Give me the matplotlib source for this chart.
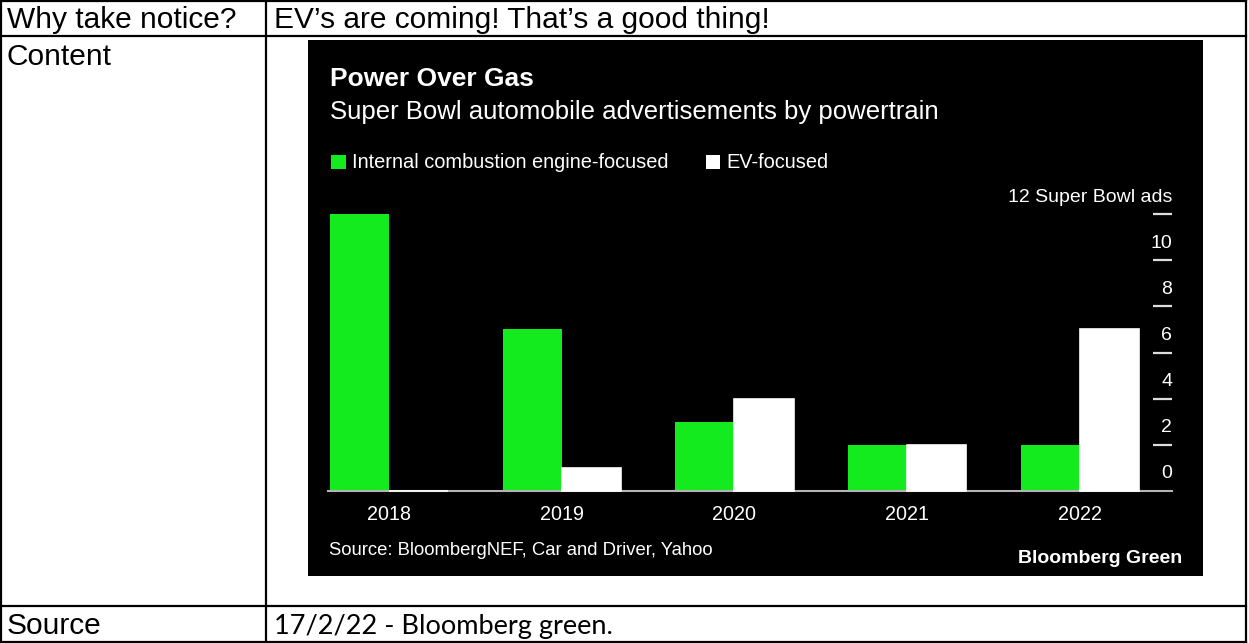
import matplotlib
matplotlib.use("Agg")
import matplotlib.pyplot as plt
from matplotlib.patches import Rectangle
from matplotlib.lines import Line2D
import numpy as np

# ---- data ----
years = ["2018", "2019", "2020", "2021", "2022"]
ice_focused = [12, 7, 3, 2, 2]
ev_focused = [0, 1, 4, 2, 7]
ytick_values = [0, 2, 4, 6, 8, 10, 12]
ytick_labels = ["0", "2", "4", "6", "8", "10", "12 Super Bowl ads"]

W, H = 1249, 643
fig = plt.figure(figsize=(W / 100, H / 100), dpi=100)
fig.patch.set_facecolor("white")

def fx(x):
    return x / W

def fy(y):
    return 1 - y / H

SANS = ["Liberation Sans", "DejaVu Sans"]
GREEN = "#14EB1E"

# ---- table frame ----
lw = 1.6
for (x0, y0, x1, y1) in [(0.8, 0.8, 1246, 0.8), (0.8, 642, 1246, 642),
                         (0.8, 0.8, 0.8, 642), (1246, 0.8, 1246, 642),
                         (0.8, 35.5, 1246, 35.5), (0.8, 605.5, 1246, 605.5),
                         (266, 0.8, 266, 642)]:
    fig.add_artist(Line2D([fx(x0), fx(x1)], [fy(y0), fy(y1)], color="black", lw=lw,
                          transform=fig.transFigure))

TS = 21.5
fig.text(fx(7), fy(28), "Why take notice?", fontsize=TS, family=SANS, va="baseline", ha="left")
fig.text(fx(274), fy(28), "EV\u2019s are coming! That\u2019s a good thing!", fontsize=TS,
         family=SANS, va="baseline", ha="left")
fig.text(fx(7), fy(65), "Content", fontsize=TS, family=SANS, va="baseline", ha="left")
fig.text(fx(7), fy(634), "Source", fontsize=TS, family=SANS, va="baseline", ha="left")
fig.text(fx(274), fy(634), "17/2/22 - Bloomberg green.", fontsize=19.5,
         family=["Lato", "DejaVu Sans"], va="baseline", ha="left")

# ---- black chart panel ----
fig.add_artist(Rectangle((fx(308), fy(576)), fx(1203) - fx(308), fy(40) - fy(576),
                         transform=fig.transFigure, facecolor="black", edgecolor="none", zorder=0))

fig.text(fx(330), fy(86), "Power Over Gas", fontsize=19, fontweight="bold", color="white",
         family=SANS, va="baseline", ha="left")
fig.text(fx(330), fy(119), "Super Bowl automobile advertisements by powertrain", fontsize=18.5,
         color="white", family=SANS, va="baseline", ha="left")

# legend
fig.add_artist(Rectangle((fx(331), fy(169)), fx(346) - fx(331), fy(155) - fy(169),
                         transform=fig.transFigure, facecolor=GREEN, edgecolor="none"))
fig.text(fx(352), fy(168), "Internal combustion engine-focused", fontsize=14.4, color="white",
         family=SANS, va="baseline", ha="left")
fig.add_artist(Rectangle((fx(706), fy(169)), fx(720) - fx(706), fy(155) - fy(169),
                         transform=fig.transFigure, facecolor="white", edgecolor="none"))
fig.text(fx(726), fy(168), "EV-focused", fontsize=14.4, color="white",
         family=SANS, va="baseline", ha="left")

# ---- axes ----
ax_l, ax_r, ax_b, ax_t = 328, 1172, 491, 214
ax = fig.add_axes([fx(ax_l), fy(ax_b), fx(ax_r) - fx(ax_l), fy(ax_t) - fy(ax_b)])
ax.set_facecolor("none")
x = np.arange(len(years))
bw = 0.342
ax.bar(x - bw / 2, ice_focused, width=bw, color=GREEN, edgecolor="none", zorder=2)
ax.bar(x + bw / 2, ev_focused, width=bw, color="white", edgecolor="white", linewidth=1.2,
       zorder=4, clip_on=False)
ax.set_xlim(-0.3531, 4.5326)
ax.set_ylim(0, 12)
for s in ax.spines.values():
    s.set_visible(False)
ax.set_yticks([])
ax.set_xticks(x)
ax.set_xticklabels(years, color="white", fontsize=14.2, family=SANS)
ax.tick_params(axis="x", length=0, pad=10)
ax.axhline(0, color="#b4b4b4", lw=1.5, zorder=3, clip_on=False)
ax.hlines(ytick_values[1:], 0.977, 1.0, transform=ax.get_yaxis_transform(),
          color="#dddddd", lw=1.6, clip_on=False)
for v, lab in zip(ytick_values, ytick_labels):
    ax.annotate(lab, xy=(1.0, v), xycoords=ax.get_yaxis_transform(),
                xytext=(0, 9), textcoords="offset points",
                ha="right", va="baseline", color="white", fontsize=14, family=SANS)

fig.text(fx(329), fy(555), "Source: BloombergNEF, Car and Driver, Yahoo", fontsize=13.3,
         color="white", family=SANS, va="baseline", ha="left")
fig.text(fx(1182), fy(563), "Bloomberg Green", fontsize=14, fontweight="bold",
         color="white", family=SANS, va="baseline", ha="right")

fig.savefig("out.png", dpi=100, facecolor="white")
